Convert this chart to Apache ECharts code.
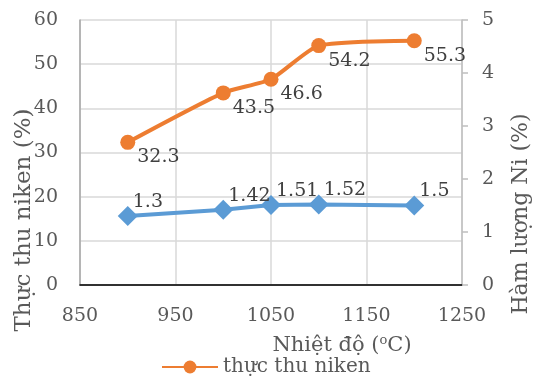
<!DOCTYPE html>
<html>
<head>
<meta charset="utf-8">
<script src="https://cdn.jsdelivr.net/npm/echarts@6/dist/echarts.min.js"></script>
<style>
  html, body { margin: 0; padding: 0; background: #fff; }
  #chart { width: 537px; height: 377px; }
</style>
</head>
<body>
<div id="chart"></div>
<script>
// Nhiệt độ nung (°C)
const temperatures = [900, 1000, 1050, 1100, 1200];
// Thực thu niken (%) – trục trái
const nickelRecovery = [32.3, 43.5, 46.6, 54.2, 55.3];
// Hàm lượng Ni (%) – trục phải
const nickelContent = [1.3, 1.42, 1.51, 1.52, 1.5];

const FONT = 'DejaVu Serif';
const TEXT = '#595959';
const ORANGE = '#ED7D31';
const BLUE = '#5B9BD5';

const chart = echarts.init(document.getElementById('chart'));

chart.setOption({
  animation: false,
  textStyle: { fontFamily: FONT },
  grid: { left: 80, right: 75, top: 20, bottom: 92, containLabel: false, outerBoundsMode: 'none' },
  legend: {
    data: ['thực thu niken'],
    left: 156, top: 352,
    itemWidth: 56, itemHeight: 16,
    itemGap: 3,
    textStyle: { fontFamily: FONT, fontSize: 20, color: TEXT }
  },
  graphic: [
    {
      type: 'text', x: 24, y: 220, rotation: Math.PI / 2,
      style: { text: 'Thực thu niken (%)', font: '23px "DejaVu Serif"', fill: TEXT, align: 'center', verticalAlign: 'middle' }
    },
    {
      type: 'text', x: 521, y: 214, rotation: Math.PI / 2,
      style: { text: 'Hàm lượng Ni (%)', font: '22px "DejaVu Serif"', fill: TEXT, align: 'center', verticalAlign: 'middle' }
    },
    {
      type: 'text', x: 342, y: 346,
      style: {
        text: '{a|Nhiệt độ (}{s|o}{a|C)}', align: 'center', verticalAlign: 'middle',
        rich: {
          a: { fontFamily: FONT, fontSize: 21, fill: TEXT },
          s: { fontFamily: FONT, fontSize: 13, fill: TEXT, verticalAlign: 'top', padding: [0, 0, 10, 0] }
        }
      }
    }
  ],
  xAxis: [
    {
      type: 'value', min: 850, max: 1250, interval: 100,
      axisLine: { show: true, lineStyle: { color: '#bfbfbf', width: 1.5 } },
      axisTick: { show: false },
      axisLabel: { color: TEXT, fontSize: 19, fontFamily: FONT, margin: 22, formatter: v => String(v) },
      splitLine: { show: true, lineStyle: { color: '#d9d9d9', width: 1.5 } }
    },
    {
      type: 'value', position: 'top', min: 850, max: 1250, interval: 100,
      axisLine: { show: true, lineStyle: { color: '#000', width: 1.5 } },
      axisTick: { show: false }, axisLabel: { show: false }, splitLine: { show: false }
    }
  ],
  yAxis: [
    {
      type: 'value', min: 0, max: 60, interval: 10,
      axisLine: { show: true, lineStyle: { color: '#a6a6a6', width: 1.5 } },
      axisTick: { show: false },
      axisLabel: { color: TEXT, fontSize: 19, fontFamily: FONT, margin: 22 },
      splitLine: { show: true, lineStyle: { color: '#d9d9d9', width: 1.5 } }
    },
    {
      type: 'value', min: 0, max: 5, interval: 1, position: 'right',
      axisLine: { show: true, lineStyle: { color: '#bfbfbf', width: 1.5 } },
      axisTick: { show: true, inside: false, length: 6, lineStyle: { color: '#bfbfbf', width: 1.5 } },
      axisLabel: { color: TEXT, fontSize: 19, fontFamily: FONT, margin: 20 },
      splitLine: { show: false }
    }
  ],
  series: [
    {
      name: 'thực thu niken',
      type: 'line', xAxisIndex: 0, yAxisIndex: 0,
      data: temperatures.map((t, i) => [t, nickelRecovery[i]]),
      smooth: 0.2,
      symbol: 'circle', symbolSize: 15,
      lineStyle: { color: ORANGE, width: 4 },
      itemStyle: { color: ORANGE },
      label: {
        show: true, position: 'right', distance: 4, offset: [-2, 15],
        color: '#404040', fontSize: 19, fontFamily: FONT,
        formatter: p => p.value[1]
      },
      z: 3
    },
    {
      name: 'Hàm lượng Ni',
      type: 'line', xAxisIndex: 0, yAxisIndex: 1,
      data: temperatures.map((t, i) => [t, nickelContent[i]]),
      symbol: 'diamond', symbolSize: 20,
      lineStyle: { color: BLUE, width: 4 },
      itemStyle: { color: BLUE },
      label: {
        show: true, position: 'right', distance: 0, offset: [-5, -14],
        color: '#404040', fontSize: 19, fontFamily: FONT,
        formatter: p => p.value[1]
      },
      z: 3
    }
  ]
});
</script>
</body>
</html>
